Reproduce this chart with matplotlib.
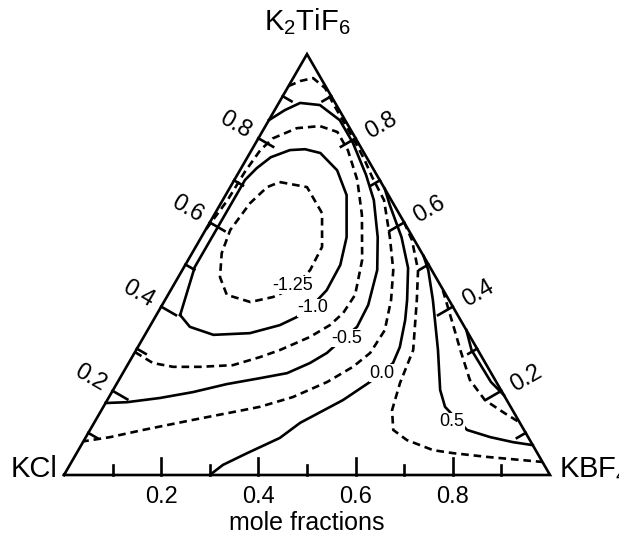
import numpy as np
import matplotlib.pyplot as plt

plt.rcParams['font.family'] = ['Liberation Sans', 'DejaVu Sans']
plt.rcParams['mathtext.fontset'] = 'custom'
plt.rcParams['mathtext.rm'] = 'Liberation Sans'
plt.rcParams['lines.scale_dashes'] = False

# iso-lines, as (x KBF4, x K2TiF6) pairs
lev_m125 = -1.25
m125_b = [0.096, 0.158, 0.220, 0.260, 0.263, 0.252, 0.219, 0.178, 0.121, 0.086, 0.061, 0.051, 0.060, 0.076, 0.096]
m125_t = [0.696, 0.684, 0.622, 0.542, 0.487, 0.447, 0.423, 0.411, 0.428, 0.470, 0.527, 0.582, 0.646, 0.684, 0.696]

lev_m100 = -1.0
m100_b = [0.049, 0.022, 0.022, 0.022, 0.032, 0.048, 0.079, 0.109, 0.145, 0.200, 0.249, 0.299, 0.319, 0.321, 0.310, 0.291, 0.266, 0.214, 0.141, 0.083, 0.049]
m100_t = [0.380, 0.494, 0.599, 0.701, 0.729, 0.755, 0.772, 0.774, 0.765, 0.724, 0.665, 0.565, 0.499, 0.439, 0.404, 0.375, 0.356, 0.337, 0.333, 0.352, 0.380]

lev_m075 = -0.75
m075_b = [0.0, 0.050, 0.096, 0.152, 0.217, 0.263, 0.296, 0.342, 0.369, 0.382, 0.385, 0.358, 0.304, 0.253, 0.198, 0.155, 0.112, 0.067, 0.030, 0.018, 0.012, 0.010, 0.0]
m075_t = [0.292, 0.266, 0.257, 0.257, 0.261, 0.280, 0.297, 0.328, 0.356, 0.385, 0.428, 0.511, 0.618, 0.701, 0.772, 0.815, 0.829, 0.824, 0.800, 0.772, 0.720, 0.653, 0.580]

lev_m050 = -0.5
m050_b = [0.0, 0.043, 0.106, 0.167, 0.227, 0.288, 0.338, 0.373, 0.396, 0.409, 0.427, 0.424, 0.401, 0.363, 0.311, 0.265, 0.200, 0.146, 0.087, 0.044, 0.021, 0.0]
m050_t = [0.171, 0.173, 0.183, 0.197, 0.216, 0.230, 0.242, 0.266, 0.290, 0.318, 0.352, 0.404, 0.487, 0.565, 0.653, 0.713, 0.789, 0.843, 0.879, 0.884, 0.867, 0.843]

lev_m025 = -0.25
m025_b = [0.0, 0.018, 0.041, 0.078, 0.115, 0.195, 0.243, 0.280, 0.332, 0.388, 0.434, 0.465, 0.488, 0.485, 0.466, 0.431, 0.378, 0.322, 0.291, 0.200, 0.109, 0.050, 0.0]
m025_t = [0.924, 0.936, 0.943, 0.919, 0.880, 0.800, 0.750, 0.708, 0.653, 0.565, 0.487, 0.416, 0.344, 0.290, 0.257, 0.221, 0.185, 0.162, 0.154, 0.131, 0.107, 0.090, 0.080]

lev_p000 = 0.0
p000_b = [0.320, 0.350, 0.412, 0.462, 0.498, 0.518, 0.539, 0.544, 0.519, 0.485, 0.424, 0.400, 0.351, 0.315, 0.300]
p000_t = [0.680, 0.641, 0.565, 0.492, 0.416, 0.368, 0.304, 0.266, 0.221, 0.178, 0.124, 0.088, 0.052, 0.024, 0.0]

lev_p025 = 0.25
p025_b = [0.399, 0.437, 0.485, 0.518, 0.570, 0.582, 0.598, 0.624, 0.664, 0.730, 0.774, 0.849, 0.969]
p025_t = [0.601, 0.558, 0.487, 0.416, 0.297, 0.219, 0.154, 0.107, 0.083, 0.059, 0.052, 0.043, 0.031]

lev_p050 = 0.5
p050_b = [0.480, 0.506, 0.551, 0.621, 0.673, 0.703, 0.745, 0.776, 0.832, 0.885, 0.929]
p050_t = [0.520, 0.487, 0.416, 0.297, 0.202, 0.162, 0.130, 0.107, 0.090, 0.078, 0.071]

lev_p075 = 0.75
p075_b = [0.560, 0.619, 0.667, 0.722, 0.777, 0.833, 0.875]
p075_t = [0.439, 0.361, 0.297, 0.226, 0.178, 0.147, 0.125]

lev_p100 = 1.0
p100_b = [0.656, 0.690, 0.731, 0.768, 0.810]
p100_t = [0.344, 0.297, 0.257, 0.221, 0.190]

# labelled lines: text and position (x KBF4, x K2TiF6)
lab_text = ['-1.25', '-1.0', '-0.5', '0.0', '0.5']
lab_b = [0.245, 0.314, 0.420, 0.533, 0.735]
lab_t = [0.451, 0.397, 0.325, 0.242, 0.126]

ticks = [0.1, 0.2, 0.3, 0.4, 0.5, 0.6, 0.7, 0.8, 0.9]
tick_labels = ['0.2', '0.4', '0.6', '0.8']

h = np.sqrt(3) / 2


def tern(b, t):
    b = np.asarray(b, dtype=float)
    t = np.asarray(t, dtype=float)
    return b + t / 2, t * h


fig = plt.figure(figsize=(6.19, 5.38), dpi=100)
ax = fig.add_axes([0, 0, 1, 1])
ax.set_xlim(-64 / 486, 555 / 486)
ax.set_ylim(-63 / 486, 475 / 486)
ax.axis('off')

lw = 1.9
# frame
ax.plot([0, 1, 0.5, 0], [0, 0, h, 0], color='black', lw=lw, solid_joinstyle='miter')

lines = [(lev_m125, m125_b, m125_t), (lev_m100, m100_b, m100_t), (lev_m075, m075_b, m075_t),
         (lev_m050, m050_b, m050_t), (lev_m025, m025_b, m025_t), (lev_p000, p000_b, p000_t),
         (lev_p025, p025_b, p025_t), (lev_p050, p050_b, p050_t), (lev_p075, p075_b, p075_t),
         (lev_p100, p100_b, p100_t)]
for lev, bb, tt in lines:
    x, y = tern(bb, tt)
    if abs(lev * 2 - round(lev * 2)) < 1e-9:
        ax.plot(x, y, color='black', lw=lw)
    else:
        ax.plot(x, y, color='black', lw=lw, dashes=(5.5, 3.5))

for s, bb, tt in zip(lab_text, lab_b, lab_t):
    x, y = tern(bb, tt)
    ax.text(x, y, s, fontsize=13, ha='center', va='center', zorder=5,
            bbox=dict(facecolor='white', edgecolor='none', pad=0.3))

# ticks on the three sides, pointing inward
for f in ticks:
    major = abs(f * 5 - round(f * 5)) < 1e-9
    L = 0.035 if major else 0.021
    # bottom
    ax.plot([f, f], [0, L], color='black', lw=lw)
    # left side (KCl - K2TiF6)
    x0, y0 = tern(0, f)
    ax.plot([x0, x0 + L * h], [y0, y0 - L * 0.5], color='black', lw=lw)
    # right side (KBF4 - K2TiF6)
    x1, y1 = tern(1 - f, f)
    ax.plot([x1, x1 - L * h], [y1, y1 - L * 0.5], color='black', lw=lw)

for s in tick_labels:
    f = float(s)
    ax.text(f, -0.046, s, fontsize=17, ha='center', va='center')
    x0, y0 = tern(0, f)
    ax.text(x0 - 0.054 * h, y0 + 0.054 * 0.5, s, fontsize=17, ha='center', va='center', rotation=-30)
    x1, y1 = tern(1 - f, f)
    ax.text(x1 + 0.060 * h, y1 + 0.052 * 0.5, s, fontsize=17, ha='center', va='center', rotation=30)

ax.text(-0.013, 0.012, 'KCl', fontsize=21, ha='right', va='center')
ax.text(1.018, 0.012, r'KBF$_\mathregular{4}$', fontsize=21, ha='left', va='center')
ax.text(0.5, 0.932, r'K$_\mathregular{2}$TiF$_\mathregular{6}$', fontsize=21, ha='center', va='center')
ax.text(0.5, -0.098, 'mole fractions', fontsize=18, ha='center', va='center')

plt.savefig('out.png', dpi=100)
